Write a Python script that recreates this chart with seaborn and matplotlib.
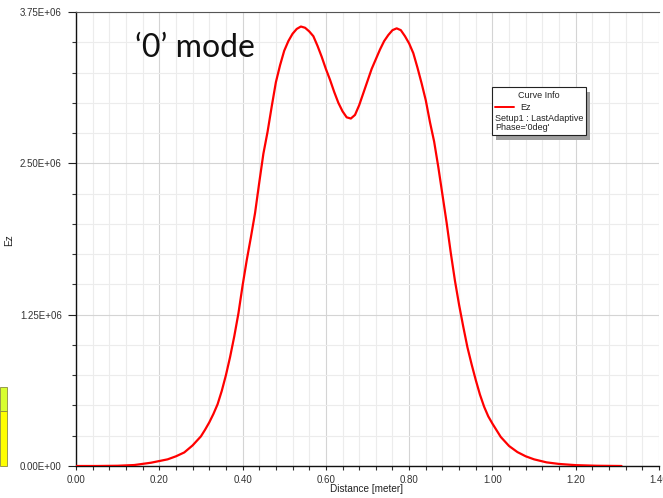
import matplotlib
matplotlib.use("Agg")
import matplotlib.pyplot as plt
import seaborn as sns
import pandas as pd
from matplotlib.ticker import MultipleLocator, FuncFormatter
from matplotlib.patches import Rectangle
from matplotlib.lines import Line2D

# ---- data ----
distance = [0.00, 0.05, 0.10, 0.14, 0.18, 0.22, 0.24, 0.26, 0.28,
            0.30, 0.31, 0.32, 0.33, 0.34, 0.35, 0.36, 0.37, 0.38, 0.39,
            0.40, 0.41, 0.42, 0.43, 0.44, 0.45, 0.46, 0.47, 0.48, 0.49,
            0.50, 0.51, 0.52, 0.53, 0.54, 0.55, 0.56, 0.57, 0.58, 0.59,
            0.60, 0.61, 0.62, 0.63, 0.64, 0.65, 0.66, 0.67, 0.68, 0.69,
            0.70, 0.71, 0.72, 0.73, 0.74, 0.75, 0.76, 0.77, 0.78, 0.79,
            0.80, 0.81, 0.82, 0.83, 0.84, 0.85, 0.86, 0.87, 0.88, 0.89,
            0.90, 0.91, 0.92, 0.93, 0.94, 0.95, 0.96, 0.97, 0.98, 0.99,
            1.00, 1.02, 1.04, 1.06, 1.08, 1.10, 1.13, 1.16, 1.20, 1.25, 1.31]
ez_mv = [0.0, 0.0, 0.002, 0.008, 0.027, 0.055, 0.080, 0.112, 0.170,
         0.245, 0.30, 0.36, 0.43, 0.51, 0.62, 0.75, 0.90, 1.07, 1.26,
         1.49, 1.70, 1.89, 2.09, 2.34, 2.58, 2.76, 2.97, 3.17, 3.31,
         3.43, 3.51, 3.57, 3.61, 3.63, 3.62, 3.59, 3.55, 3.47, 3.38,
         3.28, 3.19, 3.09, 3.00, 2.93, 2.88, 2.87, 2.90, 2.98, 3.08,
         3.18, 3.28, 3.36, 3.44, 3.51, 3.56, 3.60, 3.615, 3.60, 3.55,
         3.49, 3.41, 3.29, 3.16, 3.02, 2.84, 2.68, 2.47, 2.24, 2.01,
         1.76, 1.53, 1.33, 1.15, 0.98, 0.84, 0.71, 0.59, 0.49, 0.41,
         0.35, 0.24, 0.165, 0.115, 0.080, 0.055, 0.030, 0.017, 0.007, 0.002, 0.0]
ez = [v * 1e6 for v in ez_mv]
x_ticks = [0.0, 0.2, 0.4, 0.6, 0.8, 1.0, 1.2, 1.4]
y_ticks = [0.0, 1.25e6, 2.5e6, 3.75e6]
annotation = "\u20180\u2019 mode"
legend_title = "Curve Info"
legend_lines = ["Ez", "Setup1 : LastAdaptive", "Phase='0deg'"]

df = pd.DataFrame({"Distance [meter]": distance, "Ez": ez})

sns.set_style("white")
plt.rcParams["font.family"] = ["Liberation Sans", "DejaVu Sans"]

W, H = 663, 498
fig = plt.figure(figsize=(W / 100, H / 100), dpi=100)
ax = fig.add_axes([76 / W, 1 - 466 / H, (659 - 76) / W, (466 - 12) / H])

def fx(px):
    return px / W

def fy(py):
    return 1 - py / H

sns.lineplot(data=df, x="Distance [meter]", y="Ez", ax=ax, color="#ff0000",
             linewidth=1.6, zorder=5)

ax.set_xlim(0, 1.4)
ax.set_ylim(0, 3.75e6)
ax.set_xticks(x_ticks)
ax.set_yticks(y_ticks)
ax.xaxis.set_minor_locator(MultipleLocator(0.04))
ax.yaxis.set_minor_locator(MultipleLocator(0.25e6))
ax.xaxis.set_major_formatter(FuncFormatter(lambda v, p: f"{v:.2f}"))
ax.yaxis.set_major_formatter(FuncFormatter(lambda v, p: f"{v:.2E}"))

ax.grid(which="major", color="#d4d4d4", linewidth=0.8)
ax.grid(which="minor", color="#ececec", linewidth=0.8)
ax.set_axisbelow(True)

# y ticks
ax.tick_params(axis="y", which="major", direction="out", length=5.8, width=0.8,
               labelsize=7, colors="#222222", labelcolor="#333333", pad=4.5, left=True)
ax.tick_params(axis="y", which="minor", direction="out", length=2.6, width=0.8,
               colors="#333333", left=True)
# x ticks
ax.tick_params(axis="x", which="major", direction="out", length=3, width=0.8,
               labelsize=7, colors="#222222", labelcolor="#333333", pad=3.5, bottom=True)
ax.tick_params(axis="x", which="minor", direction="out", length=3, width=0.8,
               colors="#333333", bottom=True)

for s in ["left", "bottom"]:
    ax.spines[s].set_color("#111111")
    ax.spines[s].set_linewidth(1.0)
ax.spines["top"].set_color("#555555")
ax.spines["top"].set_linewidth(0.8)
ax.spines["right"].set_visible(False)

ax.set_xlabel("Distance [meter]", fontsize=7.2, color="#222222")
ax.set_ylabel("Ez", fontsize=7.2, color="#222222")
ax.xaxis.set_label_coords((367 - 76) / (659 - 76), -(484 - 466) / (466 - 12))
ax.yaxis.set_label_coords(-(76 - 14) / (659 - 76), (466 - 240) / (466 - 12))

# big annotation
fig.text(fx(135), fy(48), annotation, fontsize=23, family=["Lato", "DejaVu Sans"],
         color="#111111", va="center", ha="left")

# "Curve Info" legend box with shadow
fig.patches.append(Rectangle((fx(496), fy(140)), fx(94), fy(0) - fy(48),
                             transform=fig.transFigure, facecolor="#a0a0a0",
                             edgecolor="none", zorder=10))
fig.patches.append(Rectangle((fx(492), fy(135)), fx(94), fy(0) - fy(48),
                             transform=fig.transFigure, facecolor="white",
                             edgecolor="#222222", linewidth=0.8, zorder=11))
fig.text(fx(539), fy(95), legend_title, fontsize=6.5, ha="center", va="center",
         color="#222222", zorder=12)
fig.lines.append(Line2D([fx(495), fx(514)], [fy(107.5), fy(107.5)],
                        transform=fig.transFigure, color="#ff0000", linewidth=1.4,
                        zorder=12))
fig.text(fx(520), fy(107.5), legend_lines[0], fontsize=6.5, ha="left", va="center",
         color="#222222", zorder=12)
fig.text(fx(495), fy(118.5), legend_lines[1], fontsize=6.5, ha="left", va="center",
         color="#222222", zorder=12)
fig.text(fx(495), fy(128), legend_lines[2], fontsize=6.5, ha="left", va="center",
         color="#222222", zorder=12)

# yellow screenshot artefact at left edge
fig.patches.append(Rectangle((0, fy(411)), fx(7), fy(387) - fy(411),
                             transform=fig.transFigure, facecolor="#d8ff30",
                             edgecolor="#8a8a40", linewidth=0.6, zorder=10))
fig.patches.append(Rectangle((0, fy(466)), fx(7), fy(411) - fy(466),
                             transform=fig.transFigure, facecolor="#ffff00",
                             edgecolor="#8a8a40", linewidth=0.6, zorder=10))

fig.savefig("out.png", dpi=100)
